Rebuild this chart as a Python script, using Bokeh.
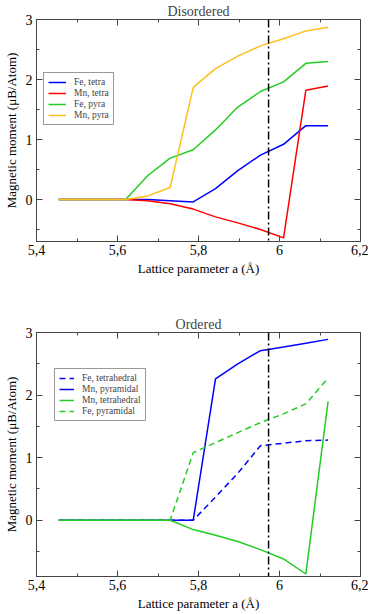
from bokeh.plotting import figure
from bokeh.layouts import column
from bokeh.models import FixedTicker, LinearAxis, Span, Legend, LegendItem, Range1d
from bokeh.embed import file_html
from bokeh.resources import INLINE

# ---- data ----
a_vals = [5.455, 5.51, 5.565, 5.62, 5.675, 5.73, 5.787, 5.842, 5.897, 5.953, 6.01, 6.065, 6.12]

dis_fe_tetra = [0, 0, 0, 0, 0.0, -0.02, -0.04, 0.18, 0.48, 0.74, 0.92, 1.23, 1.23]
dis_mn_tetra = [0, 0, 0, 0, -0.02, -0.07, -0.16, -0.29, -0.39, -0.50, -0.64, 1.82, 1.89]
dis_fe_pyra = [0, 0, 0, 0, 0.40, 0.69, 0.83, 1.16, 1.54, 1.80, 1.96, 2.27, 2.30]
dis_mn_pyra = [0, 0, 0, 0, 0.06, 0.20, 1.87, 2.18, 2.39, 2.56, 2.68, 2.81, 2.87]

ord_fe_tetra = [0, 0, 0, 0, 0, 0, 0, 0.37, 0.75, 1.19, 1.23, 1.27, 1.28]
ord_mn_pyra = [0, 0, 0, 0, 0, 0, 0, 2.26, 2.50, 2.71, 2.77, 2.83, 2.89]
ord_mn_tetra = [0, 0, 0, 0, 0, 0, -0.15, -0.24, -0.34, -0.47, -0.62, -0.86, 1.90]
ord_fe_pyra = [0, 0, 0, 0, 0, 0, 1.08, 1.24, 1.40, 1.56, 1.70, 1.86, 2.27]

x_ticks = [5.4, 5.6, 5.8, 6.0, 6.2]
x_tick_labels = ["5,4", "5,6", "5,8", "6", "6,2"]
x_minor = [5.5, 5.7, 5.9, 6.1]
y_ticks = [0, 1, 2, 3]
y_minor = [-0.5, 0.5, 1.5, 2.5]
a_exp = 5.973

FONT = "'Liberation Serif', 'Times New Roman', serif"
BLUE, RED, GREEN, ORANGE = "#0000ff", "#ff0000", "#22cc22", "#ffbf1f"
AXC = "#444444"


def style_axis(ax, labels=True):
    ax.axis_line_color = AXC
    ax.major_tick_line_color = AXC
    ax.minor_tick_line_color = AXC
    ax.major_tick_in = 6
    ax.major_tick_out = 0
    ax.minor_tick_in = 3
    ax.minor_tick_out = 0
    ax.major_label_text_font = FONT
    ax.major_label_text_font_size = "14px"
    ax.major_label_text_color = "black"
    ax.axis_label_text_font = FONT
    ax.axis_label_text_font_size = "13px"
    ax.axis_label_text_font_style = "normal"
    ax.axis_label_text_color = "black"
    if not labels:
        ax.major_label_text_color = None
        ax.major_label_text_font_size = "1px"
        ax.major_label_standoff = 0


def make_fig(title, ymin, frame_h, min_bottom):
    p = figure(frame_width=324, frame_height=frame_h, output_backend="svg",
               toolbar_location=None, x_range=Range1d(5.4, 6.2),
               y_range=Range1d(ymin, 3.0), min_border_left=4,
               min_border_right=8, min_border_top=2, min_border_bottom=min_bottom)
    p.title.text = title
    p.title.align = "center"
    p.title.text_font = FONT
    p.title.text_font_size = "14px"
    p.title.text_font_style = "normal"
    p.title.standoff = 2
    p.grid.visible = False
    p.outline_line_color = AXC
    p.xaxis.ticker = FixedTicker(ticks=x_ticks, minor_ticks=x_minor)
    p.xaxis.major_label_overrides = dict(zip(x_ticks, x_tick_labels))
    p.yaxis.ticker = FixedTicker(ticks=y_ticks, minor_ticks=y_minor)
    p.xaxis.axis_label = "Lattice parameter a (Å)"
    p.yaxis.axis_label = "Magnetic moment (μB/Atom)"
    p.xaxis.axis_label_standoff = 3
    p.yaxis.axis_label_standoff = 4
    p.xaxis.major_label_standoff = 3
    p.yaxis.major_label_standoff = 4
    style_axis(p.xaxis[0])
    style_axis(p.yaxis[0])
    ra = LinearAxis(ticker=FixedTicker(ticks=y_ticks, minor_ticks=y_minor))
    style_axis(ra, labels=False)
    p.add_layout(ra, "right")
    ta = LinearAxis(ticker=FixedTicker(ticks=x_ticks, minor_ticks=x_minor))
    style_axis(ta, labels=False)
    p.add_layout(ta, "above")
    p.add_layout(Span(location=a_exp, dimension="height", line_color="black",
                      line_width=1.5, line_dash="8 3 2 3"))
    return p


def add_legend(p, items, loc, gw):
    leg = Legend(items=items, location=loc, label_text_font=FONT,
                 label_text_font_size="9.5px", glyph_width=gw, glyph_height=8,
                 label_height=8, spacing=1, padding=4, margin=0,
                 label_standoff=8, border_line_color="#333333",
                 border_line_width=1, background_fill_alpha=1)
    p.add_layout(leg)


# ---- Disordered ----
p1 = make_fig("Disordered", -0.7, 222, 72)
r1 = p1.line(a_vals, dis_fe_tetra, line_color=BLUE, line_width=1.5)
r2 = p1.line(a_vals, dis_mn_tetra, line_color=RED, line_width=1.5)
r3 = p1.line(a_vals, dis_fe_pyra, line_color=GREEN, line_width=1.5)
r4 = p1.line(a_vals, dis_mn_pyra, line_color=ORANGE, line_width=1.5)
add_legend(p1, [LegendItem(label="Fe, tetra", renderers=[r1]),
                LegendItem(label="Mn, tetra", renderers=[r2]),
                LegendItem(label="Fe, pyra", renderers=[r3]),
                LegendItem(label="Mn, pyra", renderers=[r4])], (7, 116), 18)

# ---- Ordered ----
p2 = make_fig("Ordered", -0.9, 244, 2)
s1 = p2.line(a_vals, ord_fe_tetra, line_color=BLUE, line_width=1.5, line_dash="6 4")
s2 = p2.line(a_vals, ord_mn_pyra, line_color=BLUE, line_width=1.5)
s3 = p2.line(a_vals, ord_mn_tetra, line_color=GREEN, line_width=1.5)
s4 = p2.line(a_vals, ord_fe_pyra, line_color=GREEN, line_width=1.5, line_dash="6 4")
add_legend(p2, [LegendItem(label="Fe, tetrahedral", renderers=[s1]),
                LegendItem(label="Mn, pyramidal", renderers=[s2]),
                LegendItem(label="Mn, tetrahedral", renderers=[s3]),
                LegendItem(label="Fe, pyramidal", renderers=[s4])], (18, 155), 15)

layout = column(p1, p2, spacing=0)
open("out.html", "w").write(file_html(layout, INLINE))
